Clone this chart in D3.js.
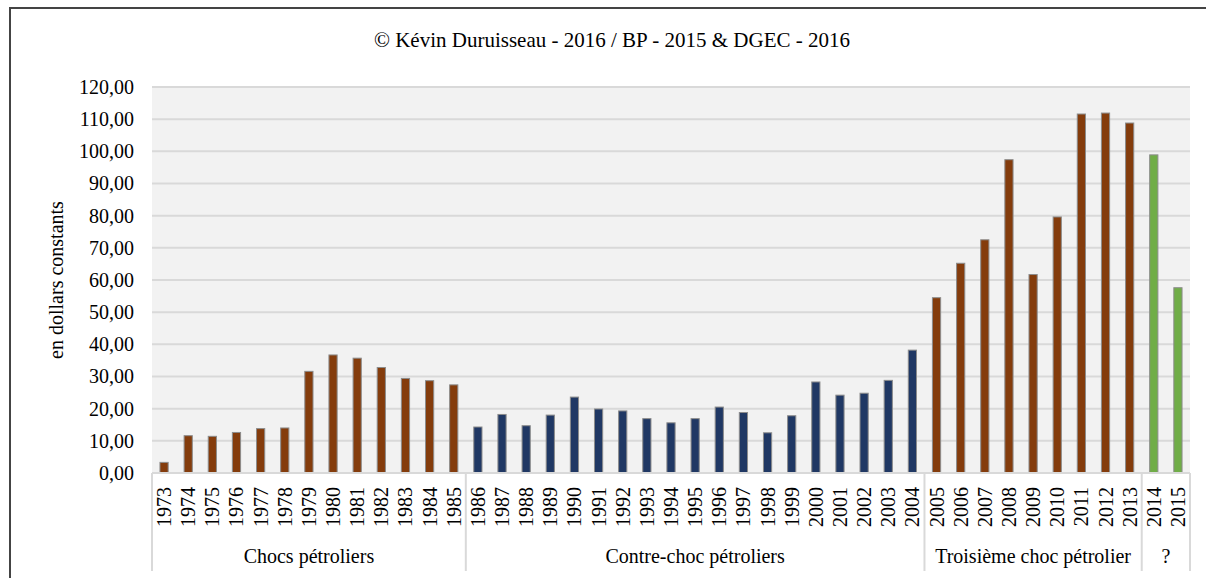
<!DOCTYPE html>
<html>
<head>
<meta charset="utf-8">
<script src="https://cdn.jsdelivr.net/npm/d3@7"></script>
<style>
  body { margin: 0; background: #fff; }
</style>
</head>
<body>
<svg width="1206" height="578"></svg>
<script>
// Years on the category axis
const years = ["1973","1974","1975","1976","1977","1978","1979","1980","1981","1982","1983","1984","1985",
  "1986","1987","1988","1989","1990","1991","1992","1993","1994","1995","1996","1997","1998","1999",
  "2000","2001","2002","2003","2004",
  "2005","2006","2007","2008","2009","2010","2011","2012","2013",
  "2014","2015"];

// Oil price, constant dollars
const prices = [3.3, 11.6, 11.4, 12.6, 13.8, 14.0, 31.6, 36.7, 35.7, 32.8, 29.4, 28.7, 27.4,
  14.3, 18.2, 14.7, 18.0, 23.6, 19.9, 19.3, 16.9, 15.6, 16.9, 20.5, 18.8, 12.5, 17.8,
  28.3, 24.2, 24.8, 28.8, 38.2,
  54.5, 65.2, 72.5, 97.4, 61.7, 79.6, 111.6, 111.9, 108.8,
  98.9, 57.6];

// Period groups (second level of the category axis)
const groupNames = ["Chocs pétroliers", "Contre-choc pétroliers", "Troisième choc pétrolier", "?"];
const groupSizes = [13, 19, 9, 2];
const groupColors = ["#843c0c", "#203864", "#843c0c", "#70ad47"];

const yTicks = [0, 10, 20, 30, 40, 50, 60, 70, 80, 90, 100, 110, 120];

const FONT = "'Liberation Serif'";
const svg = d3.select("svg");
const plotLeft = 152, plotRight = 1190, plotTop = 87, plotBottom = 473;

// outer frame (runs off the picture at right and bottom)
svg.append("rect")
  .attr("x", 10).attr("y", 8)
  .attr("width", 1230).attr("height", 600)
  .attr("fill", "none").attr("stroke", "#444").attr("stroke-width", 2);

svg.append("text")
  .attr("x", 612).attr("y", 47)
  .attr("text-anchor", "middle")
  .style("font-family", FONT).style("font-size", "21px")
  .text("© Kévin Duruisseau - 2016 / BP - 2015 & DGEC - 2016");

const x = d3.scaleBand().domain(years).range([plotLeft, plotRight]).paddingInner(0.66).paddingOuter(0.33);
const y = d3.scaleLinear().domain([0, 120]).range([plotBottom, plotTop]);

// plot background
svg.append("rect")
  .attr("x", plotLeft).attr("y", plotTop)
  .attr("width", plotRight - plotLeft).attr("height", plotBottom - plotTop)
  .attr("fill", "#f2f2f2");

// gridlines
svg.append("g")
  .selectAll("line")
  .data(yTicks.slice(1))
  .join("line")
    .attr("x1", plotLeft).attr("x2", plotRight)
    .attr("y1", d => y(d)).attr("y2", d => y(d))
    .attr("stroke", "#d9d9d9").attr("stroke-width", 2);

// y axis labels
const fmt = d => d3.format(".2f")(d).replace(".", ",");
const yAxis = svg.append("g")
  .attr("transform", `translate(${plotLeft},0)`)
  .call(d3.axisLeft(y).tickValues(yTicks).tickFormat(fmt).tickSize(0).tickPadding(18));
yAxis.select(".domain").remove();
yAxis.attr("font-family", null).attr("font-size", null);
yAxis.selectAll("text")
  .attr("fill", "#000")
  .style("font-size", "20px")
  .style("font-family", FONT);

svg.append("text")
  .attr("transform", `translate(56,${(plotTop + plotBottom) / 2}) rotate(-90)`)
  .attr("text-anchor", "middle")
  .attr("dy", "0.35em")
  .style("font-family", FONT).style("font-size", "20px")
  .text("en dollars constants");

// colour for each year from its group
const yearColor = [];
groupSizes.forEach((n, i) => { for (let k = 0; k < n; k++) yearColor.push(groupColors[i]); });

svg.append("g")
  .selectAll("rect")
  .data(prices)
  .join("rect")
    .attr("x", (d, i) => x(years[i]))
    .attr("y", d => y(d))
    .attr("width", x.bandwidth())
    .attr("height", d => plotBottom - y(d))
    .attr("fill", (d, i) => yearColor[i])
    .attr("stroke", "#8c8c8c").attr("stroke-width", 1);

// category axis: baseline and year labels
svg.append("line")
  .attr("x1", plotLeft).attr("x2", plotRight)
  .attr("y1", plotBottom).attr("y2", plotBottom)
  .attr("stroke", "#d9d9d9").attr("stroke-width", 2);

svg.append("g")
  .selectAll("text")
  .data(years)
  .join("text")
    .attr("transform", d => `translate(${x(d) + x.bandwidth() / 2},487) rotate(-90)`)
    .attr("text-anchor", "end")
    .attr("dy", "0.35em")
    .style("font-family", FONT).style("font-size", "20px")
    .text(d => d);

// group boxes
const step = x.step();
let start = 0;
const bounds = [0];
groupSizes.forEach(n => { start += n; bounds.push(start); });

svg.append("g")
  .selectAll("line")
  .data(bounds)
  .join("line")
    .attr("x1", d => plotLeft + d * step).attr("x2", d => plotLeft + d * step)
    .attr("y1", plotBottom).attr("y2", 571)
    .attr("stroke", "#d9d9d9").attr("stroke-width", 2);

svg.append("g")
  .selectAll("text")
  .data(groupNames)
  .join("text")
    .attr("x", (d, i) => plotLeft + (bounds[i] + bounds[i + 1]) / 2 * step)
    .attr("y", 563)
    .attr("text-anchor", "middle")
    .style("font-family", FONT).style("font-size", "20px")
    .text(d => d);
</script>
</body>
</html>
